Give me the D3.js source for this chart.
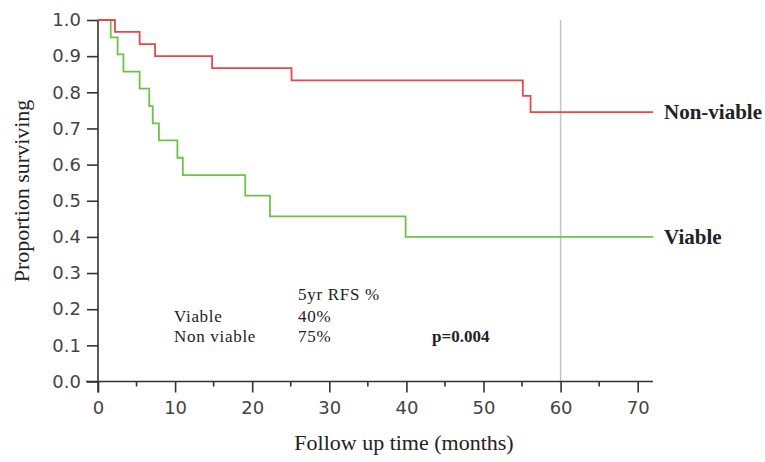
<!DOCTYPE html>
<html>
<head>
<meta charset="utf-8">
<script src="https://cdn.jsdelivr.net/npm/d3@7"></script>
<style>
  html, body { margin: 0; padding: 0; background: #fff; }
  svg { display: block; }
</style>
</head>
<body>
<svg id="chart" width="765" height="462"></svg>
<script>
// ---- data ----
const nonViableTime = [0, 2.2, 5.4, 7.4, 14.8, 25.1, 55.1, 56.1, 72];
const nonViableSurv = [1.0, 0.967, 0.933, 0.900, 0.867, 0.833, 0.790, 0.745, 0.745];
const viableTime = [0, 1.65, 2.55, 3.3, 5.4, 6.65, 7.1, 7.9, 10.3, 11.0, 19.1, 22.3, 39.9, 72];
const viableSurv = [1.0, 0.952, 0.905, 0.857, 0.810, 0.762, 0.714, 0.667, 0.619, 0.571, 0.514, 0.457, 0.400, 0.400];
const xMajorTicks = [0, 10, 20, 30, 40, 50, 60, 70];
const xMinorTicks = [5, 15, 25, 35, 45, 55, 65];
const yTicks = [0, 0.1, 0.2, 0.3, 0.4, 0.5, 0.6, 0.7, 0.8, 0.9, 1.0];
const refLineMonth = 60;
const seriesNames = ["Non-viable", "Viable"];
const tableHeader = "5yr RFS %";
const tableRows = ["Viable", "Non viable"];
const tableValues = ["40%", "75%"];
const pValueText = "p=0.004";

// ---- layout ----
const svg = d3.select("#chart");
const x = d3.scaleLinear().domain([0, 70]).range([98, 637.7]);
const y = d3.scaleLinear().domain([0, 1]).range([381.5, 20]);
const axisColor = "#333";
const serif = "'Liberation Serif', 'Times New Roman', serif";
const sans = "'DejaVu Sans', Verdana, sans-serif";

// reference line at 60 months
svg.append("line")
  .attr("x1", x(refLineMonth)).attr("x2", x(refLineMonth))
  .attr("y1", y(1)).attr("y2", y(0))
  .attr("stroke", "#c4c4c4").attr("stroke-width", 1.5);

// x axis
const xAxis = svg.append("g").attr("transform", `translate(0,${y(0)})`);
xAxis.append("line").attr("x1", 86).attr("x2", 653).attr("y1", 0).attr("y2", 0)
  .attr("stroke", axisColor).attr("stroke-width", 1.6);
xAxis.call(d3.axisBottom(x).tickValues(xMajorTicks).tickSize(11).tickPadding(9).tickFormat(d3.format("d")))
  .call(g => g.select(".domain").remove())
  .call(g => g.selectAll(".tick line").attr("stroke", axisColor).attr("stroke-width", 1.6))
  .call(g => g.selectAll(".tick text").attr("font-family", sans).attr("font-size", 18).attr("fill", "#444"));
xAxis.selectAll(".minor").data(xMinorTicks).enter().append("line")
  .attr("class", "minor")
  .attr("x1", d => x(d)).attr("x2", d => x(d)).attr("y1", 0).attr("y2", 5)
  .attr("stroke", axisColor).attr("stroke-width", 1.6);

// y axis
const yAxis = svg.append("g").attr("transform", `translate(${x(0)},0)`);
yAxis.append("line").attr("x1", 0).attr("x2", 0).attr("y1", y(1)).attr("y2", y(0) + 11)
  .attr("stroke", axisColor).attr("stroke-width", 1.6);
yAxis.call(d3.axisLeft(y).tickValues(yTicks).tickSize(11).tickPadding(6).tickFormat(d3.format(".1f")))
  .call(g => g.select(".domain").remove())
  .call(g => g.selectAll(".tick line").attr("stroke", axisColor).attr("stroke-width", 1.6))
  .call(g => g.selectAll(".tick text").attr("font-family", sans).attr("font-size", 18).attr("fill", "#444"));

// axis titles
svg.append("text").attr("x", 404).attr("y", 450).attr("text-anchor", "middle")
  .attr("font-family", serif).attr("font-size", 22).attr("fill", "#222")
  .text("Follow up time (months)");
svg.append("text").attr("transform", "translate(29,191) rotate(-90)").attr("text-anchor", "middle")
  .attr("font-family", serif).attr("font-size", 22).attr("fill", "#222")
  .text("Proportion  surviving");

// survival curves
const line = d3.line().x(d => x(d[0])).y(d => y(d[1])).curve(d3.curveStepAfter);
const nonViable = nonViableTime.map((t, i) => [t, nonViableSurv[i]]);
const viable = viableTime.map((t, i) => [t, viableSurv[i]]);
svg.append("path").datum(viable).attr("d", line)
  .attr("fill", "none").attr("stroke", "#6cc24a").attr("stroke-width", 1.8);
svg.append("path").datum(nonViable).attr("d", line)
  .attr("fill", "none").attr("stroke", "#e8474a").attr("stroke-width", 1.8);

// series labels
svg.append("text").attr("x", 664).attr("y", y(nonViableSurv[nonViableSurv.length - 1]) + 7)
  .attr("font-family", serif).attr("font-weight", "bold").attr("font-size", 21).attr("fill", "#222")
  .text(seriesNames[0]);
svg.append("text").attr("x", 664).attr("y", y(viableSurv[viableSurv.length - 1]) + 7)
  .attr("font-family", serif).attr("font-weight", "bold").attr("font-size", 21).attr("fill", "#222")
  .text(seriesNames[1]);

// stats table
const tfs = 17;
const ls = 0.7;
svg.append("text").attr("x", 298).attr("y", 300).attr("font-family", serif).attr("font-size", tfs)
  .attr("letter-spacing", ls).attr("fill", "#222").text(tableHeader);
tableRows.forEach((r, i) => {
  svg.append("text").attr("x", 174).attr("y", 321.5 + i * 20.5).attr("font-family", serif)
    .attr("letter-spacing", ls).attr("font-size", tfs).attr("fill", "#222").text(r);
  svg.append("text").attr("x", 298).attr("y", 321.5 + i * 20.5).attr("font-family", serif)
    .attr("letter-spacing", ls).attr("font-size", tfs).attr("fill", "#222").text(tableValues[i]);
});
svg.append("text").attr("x", 432).attr("y", 342).attr("font-family", serif).attr("font-weight", "bold")
  .attr("font-size", tfs).attr("fill", "#222").text(pValueText);
</script>
</body>
</html>
